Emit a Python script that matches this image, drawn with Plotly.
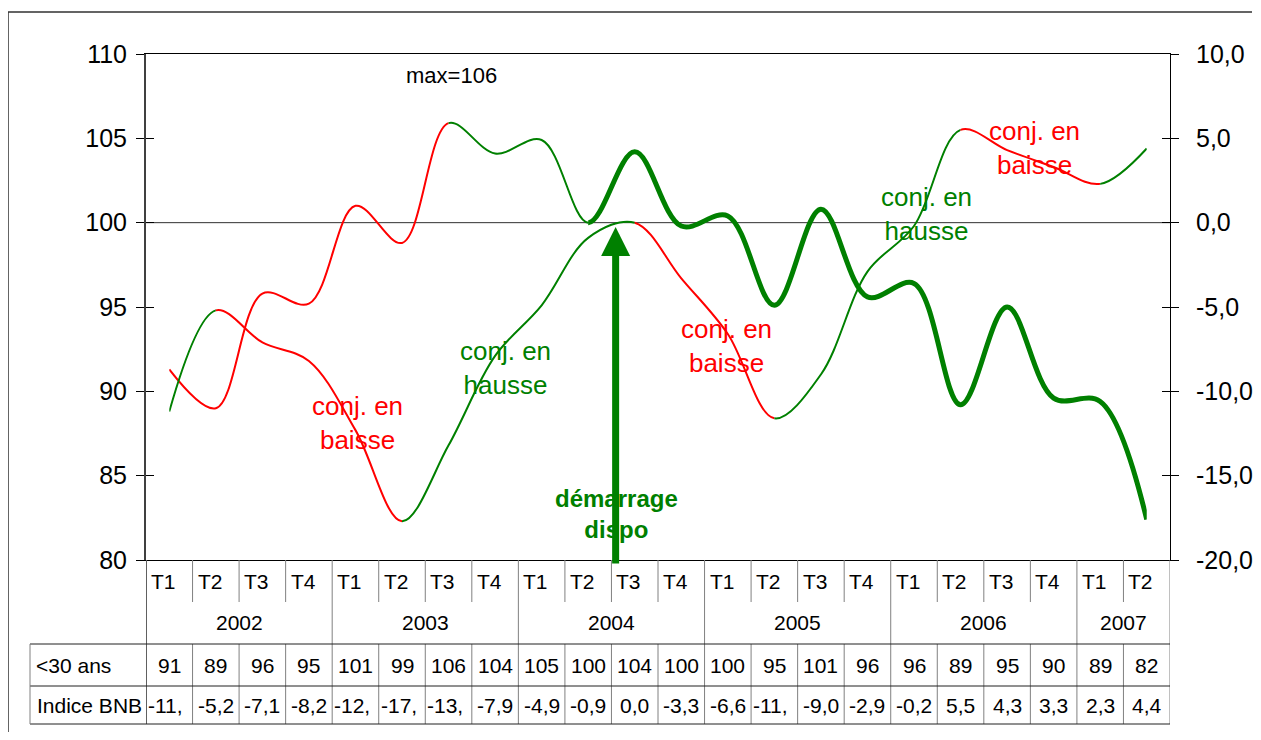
import plotly.graph_objects as go

# === Data ===
quarters = ["T1", "T2", "T3", "T4"] * 5 + ["T1", "T2"]
years = ["2002", "2003", "2004", "2005", "2006", "2007"]
year_len = [4, 4, 4, 4, 4, 2]
under30 = [91.3, 89.0, 95.8, 95.2, 101.0, 98.8, 105.9, 104.1, 104.9, 100.0, 104.2,
           99.8, 100.4, 95.1, 100.8, 95.6, 96.4, 89.2, 95.0, 89.6, 89.4, 82.4]
bnb = [-11.2, -5.2, -7.1, -8.2, -12.3, -17.7, -13.2, -7.9, -4.9, -0.9, 0.0,
       -3.3, -6.6, -11.6, -9.0, -2.9, -0.2, 5.5, 4.3, 3.3, 2.3, 4.4]
right_ticks = [-20, -15, -10, -5, 0, 5, 10]

RED = "#FF0000"
GREEN = "#008000"
FONT = "Liberation Sans, Arial, sans-serif"

# colour pieces of each line: (first index, last index, colour, width)
under30_parts = [(0, 6, RED, 2), (6, 9, GREEN, 2), (9, 21, GREEN, 5)]
bnb_parts = [(0, 1, GREEN, 2), (1, 5, RED, 2), (5, 10, GREEN, 2), (10, 13, RED, 2),
             (13, 17, GREEN, 2), (17, 20, RED, 2), (20, 21, GREEN, 2)]

n = len(quarters)
xs = list(range(n))

# === Geometry (page pixels; the page body has an 8px margin all round) ===
OFF = 8
PL, PR, PT, PB = 146, 1170, 54, 560
W, H = 1261 - 2 * OFF, 740 - 2 * OFF
plot_w, plot_h = PR - PL, PB - PT


def below(px):
    # paper y for a page pixel row (table under the plot)
    return (PB - px) / plot_h


def across(px):
    # paper x for a page pixel column
    return (px - PL) / plot_w


fig = go.Figure()
layout_axes = {}

# every colour piece is the whole smoothed series, clipped to its own x-domain,
# so the curve stays continuous where the colour changes
ax_id = 2
for values, parts, yax in [(under30, under30_parts, "y"), (bnb, bnb_parts, "y2")]:
    for a, b, col, w in parts:
        layout_axes[f"xaxis{ax_id}"] = dict(domain=[(a + 0.5) / n, (b + 0.5) / n],
                                            range=[a, b], visible=False, anchor="y",
                                            automargin=False)
        fig.add_trace(go.Scatter(x=xs, y=values, mode="lines",
                                 line=dict(color=col, width=w, shape="spline", smoothing=1),
                                 xaxis=f"x{ax_id}", yaxis=yax,
                                 showlegend=False, hoverinfo="skip"))
        ax_id += 1

# empty traces so that every axis gets drawn on the main subplot
for yax in ["y", "y2", "y3", "y4"]:
    fig.add_trace(go.Scatter(x=[None], y=[None], xaxis="x", yaxis=yax,
                             showlegend=False, hoverinfo="skip"))

shapes = []
annotations = []

# outer frame of the chart (left and top edges; the rest is off the page)
frame = dict(color="#303030", width=1.5)
shapes.append(dict(type="line", xref="paper", yref="paper", x0=across(8), x1=across(8),
                   y0=below(745), y1=below(12), line=frame, layer="below"))
shapes.append(dict(type="line", xref="paper", yref="paper", x0=across(8), x1=across(1252),
                   y0=below(12), y1=below(12), line=frame, layer="below"))
# zero line of the right axis
shapes.append(dict(type="line", xref="paper", yref="y2", x0=0, x1=1, y0=0, y1=0,
                   line=dict(color="#303030", width=1), layer="below"))

# --- table under the axis ---
GRID = "#808080"
y_t = below(602)
y_year = below(644)
y_r1 = below(686)
y_r2 = below(724)
x_lab = across(30)

bounds = [0]
for k in year_len:
    bounds.append(bounds[-1] + k)
for i in range(n + 1):
    top = y_t if i not in bounds else y_year
    shapes.append(dict(type="line", xref="x", yref="paper", x0=i - 0.5, x1=i - 0.5,
                       y0=0, y1=top, line=dict(color=GRID, width=1)))
    shapes.append(dict(type="line", xref="x", yref="paper", x0=i - 0.5, x1=i - 0.5,
                       y0=y_year, y1=y_r2, line=dict(color=GRID, width=1)))
shapes.append(dict(type="line", xref="x", yref="paper", x0=-0.5, x1=-0.5,
                   y0=0, y1=y_r2, line=dict(color="#606060", width=2)))
for yy in [y_year, y_r1, y_r2]:
    shapes.append(dict(type="line", xref="paper", yref="paper", x0=x_lab, x1=1,
                       y0=yy, y1=yy, line=dict(color="#202020", width=1)))
shapes.append(dict(type="line", xref="paper", yref="paper", x0=x_lab, x1=x_lab,
                   y0=y_year, y1=y_r2, line=dict(color=GRID, width=1)))

tfont = dict(family=FONT, size=21, color="black")
for i, q in enumerate(quarters):
    annotations.append(dict(x=i - 0.5, y=below(581), xref="x", yref="paper", text=q,
                            showarrow=False, xanchor="left", yanchor="middle",
                            xshift=3, font=tfont))
    annotations.append(dict(x=i, y=below(665), xref="x", yref="paper",
                            text=str(round(under30[i])), showarrow=False,
                            xanchor="center", yanchor="middle", font=tfont))
    full = f"{bnb[i]:.1f}".replace(".", ",")
    txt = full[:4]  # too wide values are cut by the cell, as in the source
    if len(full) > 4:
        annotations.append(dict(x=i - 0.5, y=below(705), xref="x", yref="paper", text=txt,
                                showarrow=False, xanchor="left", yanchor="middle",
                                xshift=0, font=tfont))
    else:
        annotations.append(dict(x=i, y=below(705), xref="x", yref="paper", text=txt,
                                showarrow=False, xanchor="center", yanchor="middle",
                                font=tfont))
for k, yr in enumerate(years):
    mid = (bounds[k] + bounds[k + 1] - 1) / 2
    annotations.append(dict(x=mid, y=below(622), xref="x", yref="paper", text=yr,
                            showarrow=False, xanchor="center", yanchor="middle", font=tfont))
annotations.append(dict(x=x_lab, y=below(665), xref="paper", yref="paper", text="<30 ans",
                        showarrow=False, xanchor="left", yanchor="middle", xshift=4,
                        font=tfont))
annotations.append(dict(x=x_lab, y=below(705), xref="paper", yref="paper", text="Indice BNB",
                        showarrow=False, xanchor="left", yanchor="middle", xshift=5,
                        font=tfont))

# --- notes on the chart ---
afont = dict(family=FONT, size=26)
annotations += [
    dict(x=6.07, y=108.7, text="max=106", showarrow=False,
         font=dict(family=FONT, size=22, color="black")),
    dict(x=4.05, y=88.1, text="conj. en<br>baisse", showarrow=False,
         font=dict(afont, color=RED)),
    dict(x=7.23, y=91.4, text="conj. en<br>hausse", showarrow=False,
         font=dict(afont, color=GREEN)),
    dict(x=11.98, y=92.7, text="conj. en<br>baisse", showarrow=False,
         font=dict(afont, color=RED)),
    dict(x=16.26, y=100.5, text="conj. en<br>hausse", showarrow=False,
         font=dict(afont, color=GREEN)),
    dict(x=18.58, y=104.4, text="conj. en<br>baisse", showarrow=False,
         font=dict(afont, color=RED)),
    dict(x=9.61, y=82.7, text="<b>démarrage<br>dispo</b>", showarrow=False,
         font=dict(family=FONT, size=24, color=GREEN)),
    dict(x=9.59, y=99.74, ax=9.59, ay=79.7, axref="x", ayref="y", text="",
         showarrow=True, arrowhead=2, arrowsize=0.83, arrowwidth=7,
         arrowcolor=GREEN, standoff=0, startstandoff=0),
]

axis_font = dict(family=FONT, size=25, color="black")
fig.update_layout(
    width=W, height=H, autosize=False,
    margin=dict(l=PL - OFF, r=W - (PR - OFF), t=PT - OFF, b=H - (PB - OFF), autoexpand=False),
    paper_bgcolor="white", plot_bgcolor="rgba(0,0,0,0)",
    separators=",.",
    xaxis=dict(range=[-0.5, n - 0.5], showgrid=False, zeroline=False, automargin=False,
               showticklabels=False, ticks="", showline=True, mirror=True,
               linecolor="black", linewidth=1),
    yaxis=dict(range=[80, 110], dtick=5, showgrid=False, zeroline=False, automargin=False,
               ticks="outside", ticklen=8, tickcolor="black",
               showline=True, linecolor="#404040", linewidth=2,
               tickfont=axis_font, ticklabelstandoff=4),
    yaxis2=dict(range=[-20, 10], tickvals=right_ticks,
                ticktext=[f"{v:.1f}".replace(".", ",") for v in right_ticks],
                overlaying="y", side="right", showgrid=False, zeroline=False,
                automargin=False,
                ticks="outside", ticklen=8, tickcolor="black",
                showline=True, linecolor="black", linewidth=1,
                tickfont=axis_font, ticklabelstandoff=12),
    yaxis3=dict(range=[80, 110], dtick=5, overlaying="y", side="left", automargin=False,
                showgrid=False, zeroline=False, showticklabels=False,
                ticks="inside", ticklen=8, tickcolor="black", showline=False),
    yaxis4=dict(range=[-20, 10], dtick=5, overlaying="y", side="right", automargin=False,
                showgrid=False, zeroline=False, showticklabels=False,
                ticks="inside", ticklen=8, tickcolor="black", showline=False),
    shapes=shapes,
    annotations=annotations,
    showlegend=False,
    **layout_axes,
)

fig.write_html("out.html")
